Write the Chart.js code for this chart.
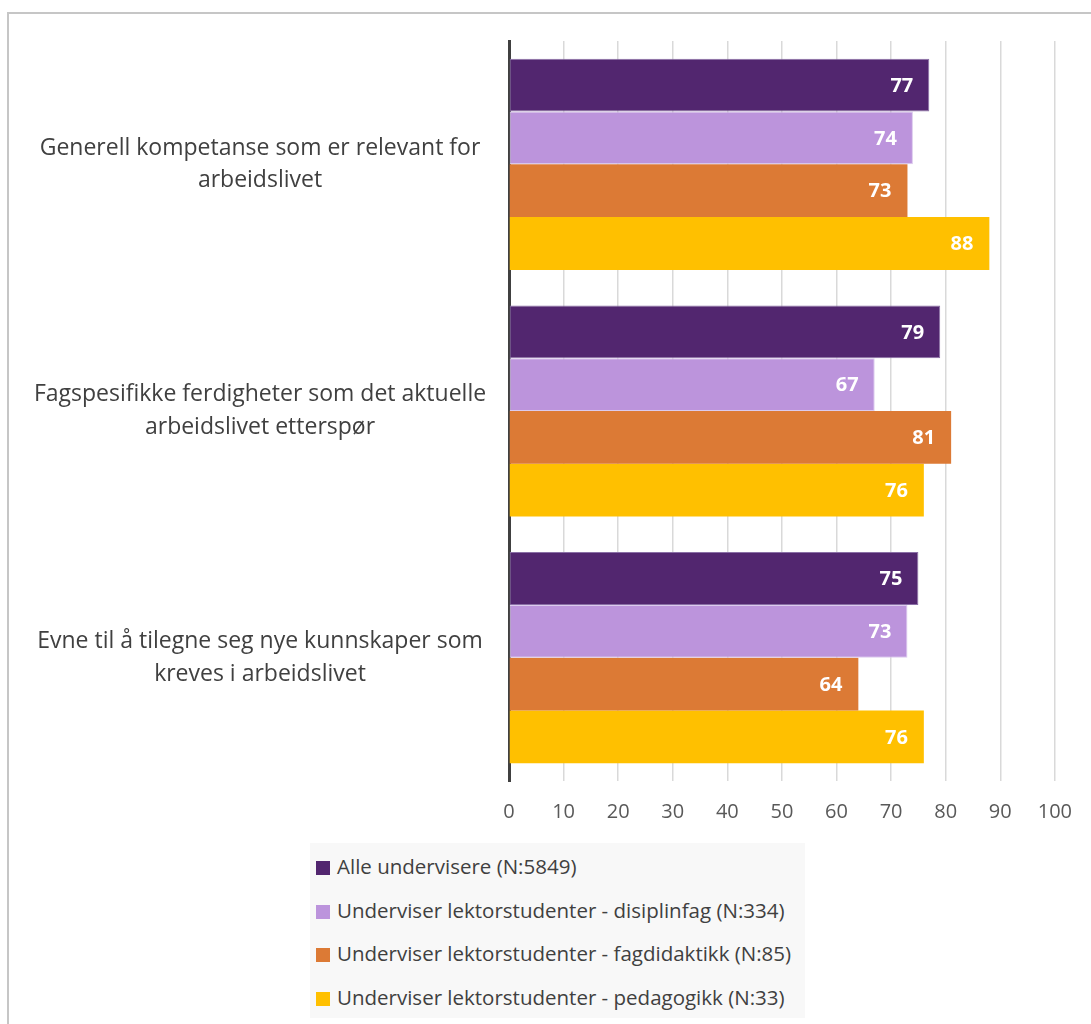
<!DOCTYPE html>
<html>
<head>
<meta charset="utf-8">
<script src="https://cdn.jsdelivr.net/npm/chart.js@4/dist/chart.umd.min.js"></script>
<style>
    body { margin: 0; background: #fff; }
    #wrap { position: relative; width: 1091px; height: 1024px; overflow: hidden; font-family: "Open Sans", sans-serif; }
    #frame { position: absolute; left: 7px; top: 12px; right: -10px; bottom: -10px; border-left: 2px solid #c6c6c6; border-top: 2px solid #c6c6c6; }
    #chartBox { position: absolute; left: 0; top: 0; width: 1091px; height: 840px; }
    #legend { position: absolute; left: 310px; top: 843px; width: 495px; height: 175px; background: #f8f8f8; }
    .item { position: absolute; left: 6px; height: 28px; line-height: 28px; font-size: 20.5px; color: #404040; white-space: nowrap; }
    .item span { display: inline-block; width: 14px; height: 14px; margin-right: 7px; vertical-align: -1px; }
</style>
</head>
<body>
<div id="wrap">
    <div id="frame"></div>
    <div id="chartBox"><canvas id="barChart"></canvas></div>
    <div id="legend"></div>
</div>
<script>
const categories = [
    ['Generell kompetanse som er relevant for', 'arbeidslivet'],
    ['Fagspesifikke ferdigheter som det aktuelle', 'arbeidslivet etterspør'],
    ['Evne til å tilegne seg nye kunnskaper som', 'kreves i arbeidslivet']
];
const seriesNames = [
    'Alle undervisere (N:5849)',
    'Underviser lektorstudenter - disiplinfag (N:334)',
    'Underviser lektorstudenter - fagdidaktikk (N:85)',
    'Underviser lektorstudenter - pedagogikk (N:33)'
];
const alleUndervisere = [77, 79, 75];
const disiplinfag = [74, 67, 73];
const fagdidaktikk = [73, 81, 64];
const pedagogikk = [88, 76, 76];
const xTicks = [0, 10, 20, 30, 40, 50, 60, 70, 80, 90, 100];

const colors = ['#52266f', '#bc94dc', '#dc7a35', '#ffc000'];
const borders = ['#8a6fa6', '#dccbee', '#dc7a35', '#ffc000'];
const allValues = [alleUndervisere, disiplinfag, fagdidaktikk, pedagogikk];

// legend as plain html, one item per row
let legendEl = document.getElementById('legend');
seriesNames.forEach(function(name, i) {
    let row = document.createElement('div');
    row.className = 'item';
    row.style.top = (9 + i * 43.7) + 'px';
    row.innerHTML = '<span style="background:' + colors[i] + '"></span>' + name;
    legendEl.appendChild(row);
});

// centre the category labels at x ~260
const labelFont = '23px "Open Sans"';
let mctx = document.createElement('canvas').getContext('2d');
mctx.font = labelFont;
let widest = 0;
categories.forEach(function(c) {
    c.forEach(function(line) { widest = Math.max(widest, mctx.measureText(line).width); });
});
const labelPad = 509 - 260 - widest / 2;

const valueLabels = {
    id: 'valueLabels',
    afterDatasetsDraw(chart) {
        const ctx = chart.ctx;
        ctx.save();
        ctx.font = 'bold 20px "Open Sans"';
        ctx.fillStyle = '#ffffff';
        ctx.textAlign = 'right';
        ctx.textBaseline = 'middle';
        chart.data.datasets.forEach(function(ds, i) {
            chart.getDatasetMeta(i).data.forEach(function(bar, j) {
                ctx.fillText(ds.data[j], bar.x - 16, bar.y + 1);
            });
        });
        ctx.restore();
    }
};

let ctx = document.getElementById('barChart').getContext('2d');
let myChart = new Chart(ctx, {
    type: 'bar',
    data: {
        labels: categories,
        datasets: seriesNames.map(function(name, i) {
            return {
                label: name,
                data: allValues[i],
                backgroundColor: colors[i],
                borderColor: borders[i],
                borderWidth: i < 2 ? 1 : 0,
                borderSkipped: false,
                categoryPercentage: 0.856,
                barPercentage: 1.0
            };
        })
    },
    options: {
        indexAxis: 'y',
        responsive: true,
        maintainAspectRatio: false,
        animation: false,
        layout: { padding: { left: 10, right: 34, top: 41, bottom: 18 } },
        plugins: {
            legend: { display: false },
            tooltip: { enabled: false }
        },
        scales: {
            x: {
                min: 0,
                max: 100,
                afterBuildTicks: function(scale) {
                    scale.ticks = xTicks.map(function(v) { return { value: v }; });
                },
                afterFit: function(scale) {
                    scale.height = 41;
                    scale.paddingTop = 0;
                    scale.paddingBottom = 0;
                },
                grid: { color: '#d9d9d9', lineWidth: 1.5, drawTicks: false },
                border: { display: false },
                ticks: { color: '#595959', font: { family: 'Open Sans', size: 20 }, padding: 19, maxRotation: 0 }
            },
            y: {
                afterFit: function(scale) {
                    scale.width = 499;
                    scale.paddingTop = 0;
                    scale.paddingBottom = 0;
                },
                grid: { display: false, drawTicks: false },
                border: { display: true, color: '#404040', width: 3 },
                ticks: {
                    crossAlign: 'center',
                    padding: labelPad,
                    color: '#404040',
                    font: { family: 'Open Sans', size: 23, lineHeight: 1.42 }
                }
            }
        }
    },
    plugins: [valueLabels]
});
</script>
</body>
</html>
